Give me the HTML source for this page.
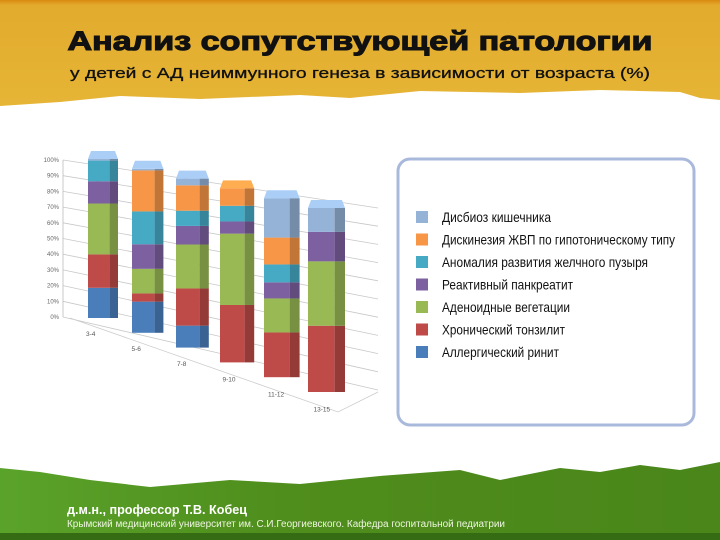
<!DOCTYPE html>
<html><head><meta charset="utf-8"><style>
html,body{margin:0;padding:0;width:720px;height:540px;overflow:hidden;background:#fff;font-family:"Liberation Sans",sans-serif}
svg{display:block}
</style></head><body>
<svg id="s" width="720" height="540" viewBox="0 0 720 540" xmlns="http://www.w3.org/2000/svg">
<defs>
<linearGradient id="gy" x1="0" y1="0" x2="0" y2="1"><stop offset="0" stop-color="#d98a10"/><stop offset="0.05" stop-color="#e2ab2e"/><stop offset="1" stop-color="#e6b536"/></linearGradient>
<linearGradient id="gg" x1="0" y1="0" x2="1" y2="0"><stop offset="0" stop-color="#5aa32a"/><stop offset="0.4" stop-color="#4f8d1c"/><stop offset="1" stop-color="#4a861a"/></linearGradient>
</defs>
<path d="M0 0H720V100L700 98 680 92 600 90 520 93 420 91 350 98 300 95 200 99 120 96 60 102 0 106Z" fill="url(#gy)"/>
<text x="360" y="50" text-anchor="middle" font-size="27" font-weight="bold" fill="#111" stroke="#111" stroke-width="1.1" textLength="585" lengthAdjust="spacingAndGlyphs">Анализ сопутствующей патологии</text>
<text x="360" y="78" text-anchor="middle" font-size="15" fill="#111" stroke="#111" stroke-width="0.3" textLength="580" lengthAdjust="spacingAndGlyphs">у детей с АД неиммунного генеза в зависимости от возраста (%)</text>
<path d="M0 468L40 472 90 480 150 487 230 480 300 484 380 476 460 470 500 480 560 468 600 472 640 465 680 470 720 462V540H0Z" fill="url(#gg)"/>
<rect x="0" y="533" width="720" height="7" fill="#356b12"/>
<text x="67" y="514" font-size="13" font-weight="bold" fill="#fff" textLength="180" lengthAdjust="spacingAndGlyphs">д.м.н., профессор Т.В. Кобец</text>
<text x="67" y="527" font-size="10" fill="#eef6e0" textLength="438" lengthAdjust="spacingAndGlyphs">Крымский медицинский университет им. С.И.Георгиевского.  Кафедра госпитальной педиатрии</text>
<g id="chart"></g>
<rect x="398" y="159" width="296" height="266" rx="12" fill="#fff" stroke="#a9b9dc" stroke-width="3"/>
<g id="legend"></g>
</svg>
<script>
const categories=["3-4","5-6","7-8","9-10","11-12","13-15"];
const seriesNames=["Аллергический ринит","Хронический тонзилит","Аденоидные вегетации","Реактивный панкреатит","Аномалия развития желчного пузыря","Дискинезия ЖВП по гипотоническому типу","Дисбиоз кишечника"];
const allergic=[19,19,13,0,0,0];
const tonsil=[21,5,22,33,25,36];
const adenoid=[32,15,26,41,19,35];
const pancreat=[14,15,11,7,9,16];
const anomaly=[13,20,9,9,10,0];
const dyskin=[0,25,15,10,15,0];
const dysbiosis=[1,1,4,0,22,13];
const tickLabels=["0%","10%","20%","30%","40%","50%","60%","70%","80%","90%","100%"];
const series=[allergic,tonsil,adenoid,pancreat,anomaly,dyskin,dysbiosis];
const colors=["#4a7ebb","#be4b48","#98b954","#7d60a0","#46aac5","#f79646","#95b3d7"];
const NS="http://www.w3.org/2000/svg";
const chart=document.getElementById('chart');
function mk(t,a,p){const e=document.createElementNS(NS,t);for(const k in a)e.setAttribute(k,a[k]);(p||chart).appendChild(e);return e;}
function shade(h,f){const n=parseInt(h.slice(1),16);let r=n>>16,g=(n>>8)&255,b=n&255;r=Math.min(255,Math.round(r*f));g=Math.min(255,Math.round(g*f));b=Math.min(255,Math.round(b*f));return `rgb(${r},${g},${b})`;}
const LX=63,RX=378;
function yL(p){return 317-p*1.57;} function yR(p){return 390-p*1.82;}
for(let i=0;i<tickLabels.length;i++){
  const p=i*10;
  const l=mk('line',{x1:LX,y1:yL(p),x2:RX,y2:yR(p),stroke:'#c8c8c8','stroke-width':0.8});
  
  
  const t=mk('text',{x:LX-4,y:yL(p)+2,'font-size':6,'text-anchor':'end',fill:'#666'});
  t.textContent=tickLabels[i];
  
  
}
const ax=mk('line',{x1:LX,y1:yL(0),x2:LX,y2:yL(100),stroke:'#bbb','stroke-width':0.8});


const fl=mk('polyline',{points:'70,318 338,412 378,392',fill:'none',stroke:'#ccc','stroke-width':0.8});


const n=categories.length;
for(let i=0;i<n;i++){
  const x0=88+i*44, w=30+i*1.4, base=318+i*14.8, top=159+i*9.8, H=base-top;
  const fw=w*0.72, sw=w-fw;
  let total=0; for(const s of series) total+=s[i];
  let acc=0;
  for(let k=0;k<series.length;k++){
    const v=series[k][i]; if(v<=0) continue;
    const y1=base-acc/total*H, y2=base-(acc+v)/total*H; acc+=v;
    const f=mk('rect',{x:x0,y:y2,width:fw,height:y1-y2,fill:colors[k]});
    
    
    const sd=mk('rect',{x:x0+fw,y:y2,width:sw,height:y1-y2,fill:shade(colors[k],0.78)});
    
    
    if(acc===total){
      const c=mk('polygon',{points:`${x0},${y2} ${x0+w},${y2} ${x0+w-3},${y2-8} ${x0+3},${y2-8}`,fill:shade(colors[k],1.15)});
      
      
    }
  }
  const t=mk('text',{x:x0-2+i*1.5,y:base+18+i*0.3,'font-size':6.5,fill:'#555'});
  t.textContent=categories[i];
  
  
}
const lg=document.getElementById('legend');
const lw=[117,123,128,131,206,233,109];
for(let k=series.length-1,j=0;k>=0;k--,j++){
  const y=217+j*22.5;
  const r=mk('rect',{x:416,y:y-6,width:12,height:12,fill:colors[k]},lg);
  
  
  const t=mk('text',{x:442,y:y+5,'font-size':14,fill:'#111',textLength:lw[k],lengthAdjust:'spacingAndGlyphs'},lg);
  t.textContent=seriesNames[k];
  
  
}
</script>
</body></html>
